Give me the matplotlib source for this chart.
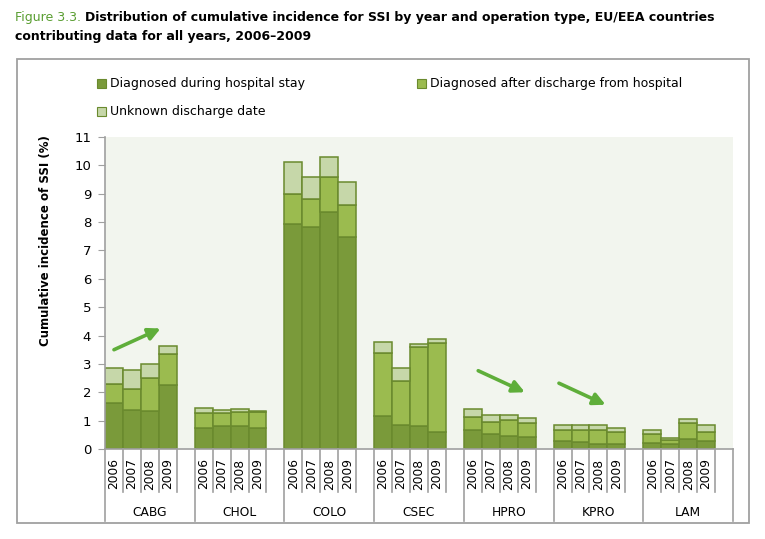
import matplotlib
matplotlib.use('Agg')
import matplotlib.pyplot as plt
from matplotlib import font_manager
from matplotlib.patches import Rectangle
import numpy as np

# operation types and surveillance years
groups = ['CABG', 'CHOL', 'COLO', 'CSEC', 'HPRO', 'KPRO', 'LAM']
years = ['2006', '2007', '2008', '2009']

# cumulative incidence (%) split by time of diagnosis, one row per operation type
during = [[1.61, 1.38, 1.34, 2.25],
          [0.73, 0.80, 0.80, 0.73],
          [7.92, 7.82, 8.35, 7.47],
          [1.15, 0.84, 0.80, 0.59],
          [0.66, 0.52, 0.45, 0.41],
          [0.27, 0.24, 0.17, 0.17],
          [0.20, 0.17, 0.34, 0.27]]
after = [[0.67, 0.73, 1.15, 1.09],
         [0.53, 0.46, 0.49, 0.56],
         [1.06, 0.98, 1.23, 1.12],
         [2.22, 1.55, 2.79, 3.14],
         [0.46, 0.42, 0.56, 0.50],
         [0.39, 0.42, 0.49, 0.42],
         [0.32, 0.14, 0.57, 0.32]]
unknown = [[0.57, 0.67, 0.50, 0.28],
           [0.18, 0.10, 0.11, 0.04],
           [1.13, 0.78, 0.71, 0.81],
           [0.39, 0.46, 0.10, 0.14],
           [0.28, 0.25, 0.18, 0.17],
           [0.17, 0.17, 0.17, 0.14],
           [0.14, 0.07, 0.14, 0.24]]
series_labels = ['Diagnosed during hospital stay',
                 'Diagnosed after discharge from hospital',
                 'Unknown discharge date']

# trend arrows drawn on top of the bars: (x0, y0, x1, y1) in data units
trend_arrows = [(0.0, 3.5, 2.6, 4.25),
                (20.3, 2.76, 22.9, 2.0),
                (24.8, 2.32, 27.4, 1.56)]

title_num = 'Figure 3.3.'
title_1 = 'Distribution of cumulative incidence for SSI by year and operation type, EU/EEA countries'
title_2 = 'contributing data for all years, 2006\u20132009'

c_dark = '#7a9a3a'
c_mid = '#9bbb4f'
c_light = '#c6d7a9'
c_edge = '#6a8a2e'
c_bg = '#f2f5ee'
c_grey = '#a0a0a0'
c_arrow = '#5fae3a'
c_title = '#5a9e32'

W, H = 765, 539
fig = plt.figure(figsize=(W / 100, H / 100), dpi=100)


def fx(px):
    return px / W


def fy(py):
    return 1 - py / H


def pick_narrow():
    # the caption uses a condensed face; take one if it is installed
    for fam in ['Liberation Sans Narrow', 'DejaVu Sans Condensed']:
        try:
            font_manager.findfont(font_manager.FontProperties(family=fam), fallback_to_default=False)
            return fam
        except ValueError:
            pass
    return 'DejaVu Sans'


ax = fig.add_axes([fx(105), fy(449), fx(733) - fx(105), fy(137) - fy(449)])
ax.set_facecolor(c_bg)

x = np.array([g * 5 + j for g in range(len(groups)) for j in range(len(years))])
d = np.array(during).ravel()
a = np.array(after).ravel()
u = np.array(unknown).ravel()
ax.bar(x, d, width=1, color=c_dark, edgecolor=c_edge, lw=1.1, zorder=2)
ax.bar(x, a, bottom=d, width=1, color=c_mid, edgecolor=c_edge, lw=1.1, zorder=2)
ax.bar(x, u, bottom=d + a, width=1, color=c_light, edgecolor=c_edge, lw=1.1, zorder=2)

for x0, y0, x1, y1 in trend_arrows:
    ax.annotate('', xy=(x1, y1), xytext=(x0, y0),
                arrowprops=dict(arrowstyle='-|>', color=c_arrow, lw=2.6,
                                mutation_scale=18, shrinkA=0, shrinkB=0), zorder=3)

ax.set_xlim(-0.5, 34.5)
ax.set_ylim(0, 11)
ax.set_yticks(range(0, 12))
ax.set_xticks([])
ax.tick_params(axis='y', length=5, color=c_grey, labelsize=9.5, pad=5)
for s in ['top', 'right']:
    ax.spines[s].set_visible(False)
for s in ['left', 'bottom']:
    ax.spines[s].set_color(c_grey)
    ax.spines[s].set_linewidth(1.2)

# category table under the axis
tr = ax.get_xaxis_transform()
for g in range(len(groups) + 1):
    ax.plot([g * 5 - 0.5] * 2, [0, -0.232], color=c_grey, lw=1.2, transform=tr, clip_on=False)
for g in range(len(groups)):
    for k in range(1, 5):
        ax.plot([g * 5 - 0.5 + k] * 2, [0, -0.137], color=c_grey, lw=1.2, transform=tr, clip_on=False)
    for j, yr in enumerate(years):
        ax.text(g * 5 + j, -0.08, yr, rotation=90, ha='center', va='center',
                fontsize=8.8, transform=tr)
    ax.text(g * 5 + 2, -0.202, groups[g], ha='center', va='center', fontsize=8.8, transform=tr)

fig.text(fx(46), fy(241), 'Cumulative incidence of SSI (%)', rotation=90,
         ha='center', va='center', fontsize=8.5, fontweight='bold')

# outer frame
fig.add_artist(Rectangle((fx(17), fy(523)), fx(749) - fx(17), fy(59) - fy(523),
                         transform=fig.transFigure, fill=False, edgecolor=c_grey, lw=1.3))

# legend
legend_items = [(97, 83, c_dark), (417, 83, c_mid), (97, 111, c_light)]
for (lx, ly, col), lab in zip(legend_items, series_labels):
    fig.add_artist(Rectangle((fx(lx), fy(ly + 4.5)), fx(9), 9 / H, transform=fig.transFigure,
                             facecolor=col, edgecolor=c_edge, lw=0.8))
    fig.text(fx(lx + 13), fy(ly), lab, ha='left', va='center', fontsize=9)

# title: green figure number followed by bold caption, sized to span 15..717 px
narrow = pick_narrow()
fig.canvas.draw()
rend = fig.canvas.get_renderer()


def title_width(size):
    p1 = fig.text(0, 0, title_num, fontsize=size, family=narrow)
    p2 = fig.text(0, 0, title_1, fontsize=size, family=narrow, fontweight='bold')
    w = p1.get_window_extent(rend).width + 4 + p2.get_window_extent(rend).width
    p1.remove()
    p2.remove()
    return w


tsize = min(11.5, 11 * 702 / title_width(11))
t1 = fig.text(fx(15), fy(18), title_num, color=c_title, fontsize=tsize, family=narrow,
              ha='left', va='center')
w1 = t1.get_window_extent(rend).width
fig.text(fx(15 + w1 + 4), fy(18), title_1, fontsize=tsize, family=narrow,
         fontweight='bold', ha='left', va='center')
fig.text(fx(15), fy(36), title_2, fontsize=tsize, family=narrow,
         fontweight='bold', ha='left', va='center')

fig.savefig('out.png', dpi=100)
